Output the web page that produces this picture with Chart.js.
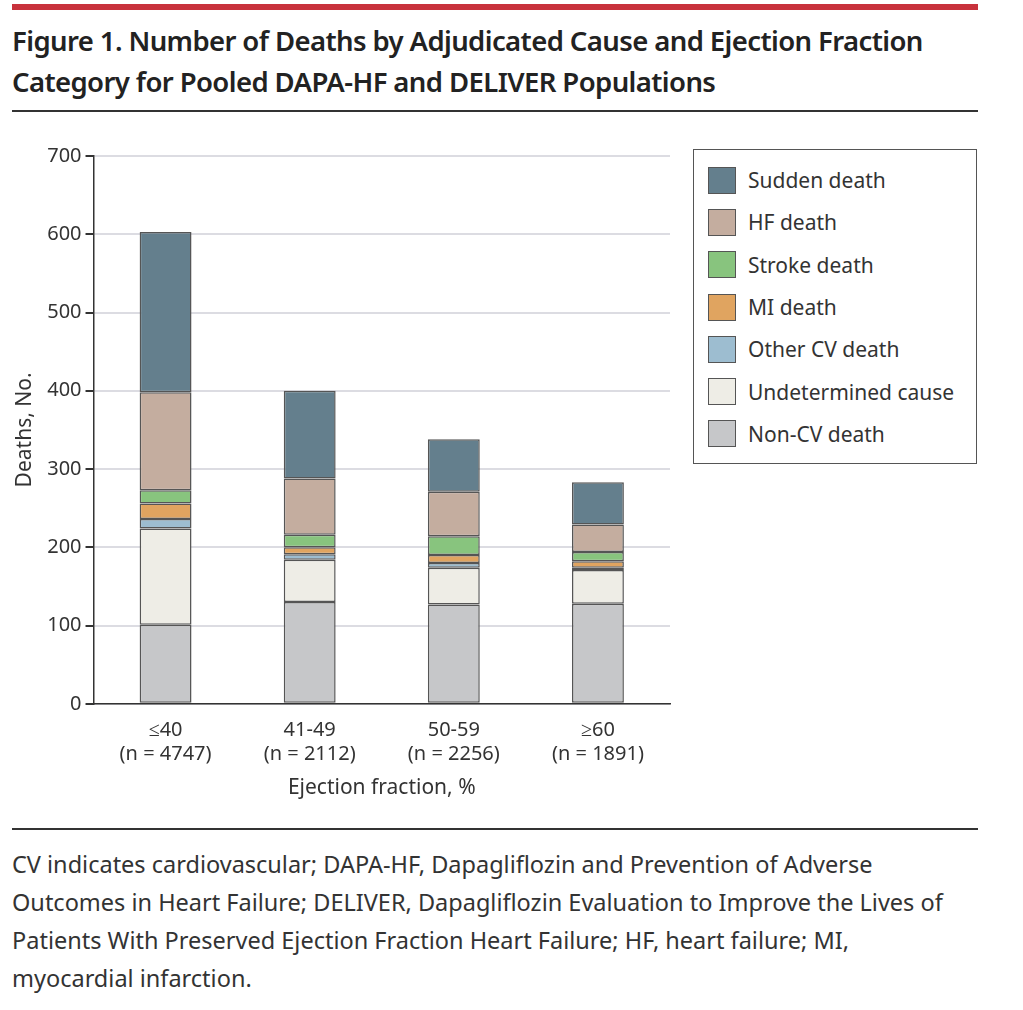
<!DOCTYPE html>
<html><head><meta charset="utf-8">
<script src="https://cdn.jsdelivr.net/npm/chart.js@4/dist/chart.umd.min.js"></script>
<style>
body{margin:0;width:1023px;height:1010px;background:#fff;font-family:"Noto Sans",sans-serif;color:#222;position:relative;overflow:hidden}
#bar{position:absolute;left:12px;top:4px;width:966px;height:6px;background:#c8323c}
#title{position:absolute;left:12px;top:20px;width:966px;font-size:27.5px;font-weight:600;line-height:41px;color:#222;letter-spacing:-0.6px}
#rule1{position:absolute;left:12px;top:110px;width:966px;height:2px;background:#333}
#rule2{position:absolute;left:12px;top:828px;width:966px;height:2px;background:#333}
#cap{position:absolute;left:12px;top:845px;width:935px;font-size:23.5px;line-height:38px;color:#333}
#wrap{position:absolute;left:0;top:140px;width:690px;height:665px}
#legend{position:absolute;left:693px;top:149px;width:284px;height:315px;border:1.5px solid #555;box-sizing:border-box;padding:9px 0 0 14px}
.li{display:flex;align-items:center;height:42.3px;font-size:21px;color:#333}
.sw{width:28px;height:27px;border:1.5px solid #555;box-sizing:border-box;margin-right:12px}
</style></head><body>
<div id="bar"></div>
<div id="title">Figure 1. Number of Deaths by Adjudicated Cause and Ejection Fraction Category for Pooled DAPA-HF and DELIVER Populations</div>
<div id="rule1"></div>
<div id="wrap"><canvas id="c" width="690" height="665"></canvas></div>
<div id="legend"></div>
<div id="rule2"></div>
<div id="cap">CV indicates cardiovascular; DAPA-HF, Dapagliflozin and Prevention of Adverse Outcomes in Heart Failure; DELIVER, Dapagliflozin Evaluation to Improve the Lives of Patients With Preserved Ejection Fraction Heart Failure; HF, heart failure; MI, myocardial infarction.</div>
<script>
const categories=[["≤40","(n = 4747)"],["41-49","(n = 2112)"],["50-59","(n = 2256)"],["≥60","(n = 1891)"]];
const nonCV=[101,130,127,128];
const undetermined=[123,54,47,43];
const otherCV=[12,7,6,3];
const miDeath=[20,9,10,8];
const strokeDeath=[17,16,24,12];
const hfDeath=[125,72,57,35];
const suddenDeath=[205,112,67,54];
const yTicks=[0,100,200,300,400,500,600,700];

const series=[
 ["Non-CV death",nonCV,"#c6c7c9"],
 ["Undetermined cause",undetermined,"#eeede6"],
 ["Other CV death",otherCV,"#9dbdd0"],
 ["MI death",miDeath,"#e0a460"],
 ["Stroke death",strokeDeath,"#88c47e"],
 ["HF death",hfDeath,"#c4ad9f"],
 ["Sudden death",suddenDeath,"#647f8d"]];
const lg=document.getElementById('legend');
series.slice().reverse().forEach(s=>{lg.insertAdjacentHTML('beforeend',`<div class="li"><div class="sw" style="background:${s[2]}"></div>${s[0]}</div>`)});
new Chart(document.getElementById('c'),{type:'bar',
data:{labels:categories,datasets:series.map(s=>({label:s[0],data:s[1],backgroundColor:s[2],borderColor:'#555',borderWidth:1.5,borderSkipped:false,barPercentage:0.36,categoryPercentage:1}))},
options:{responsive:false,animation:false,devicePixelRatio:1,
layout:{padding:{left:8,right:20,top:6,bottom:0}},
plugins:{legend:{display:false},tooltip:{enabled:false}},
scales:{
 x:{stacked:true,grid:{display:false},border:{color:'#333',width:1.5},ticks:{color:'#333',font:{family:'Noto Sans',size:20},padding:6},
    title:{display:true,text:'Ejection fraction, %',color:'#333',font:{family:'Noto Sans',size:21},padding:{top:4}}},
 y:{stacked:true,min:0,max:700,afterBuildTicks:a=>{a.ticks=yTicks.map(v=>({value:v}))},
    grid:{color:'#dcdce2',lineWidth:2,tickColor:'#333',tickLength:8},border:{color:'#333',width:1.5},
    ticks:{color:'#333',font:{family:'Noto Sans',size:20},padding:4},
    title:{display:true,text:'Deaths, No.',color:'#333',font:{family:'Noto Sans',size:21},padding:{bottom:6}}}
}}});
</script></body></html>
